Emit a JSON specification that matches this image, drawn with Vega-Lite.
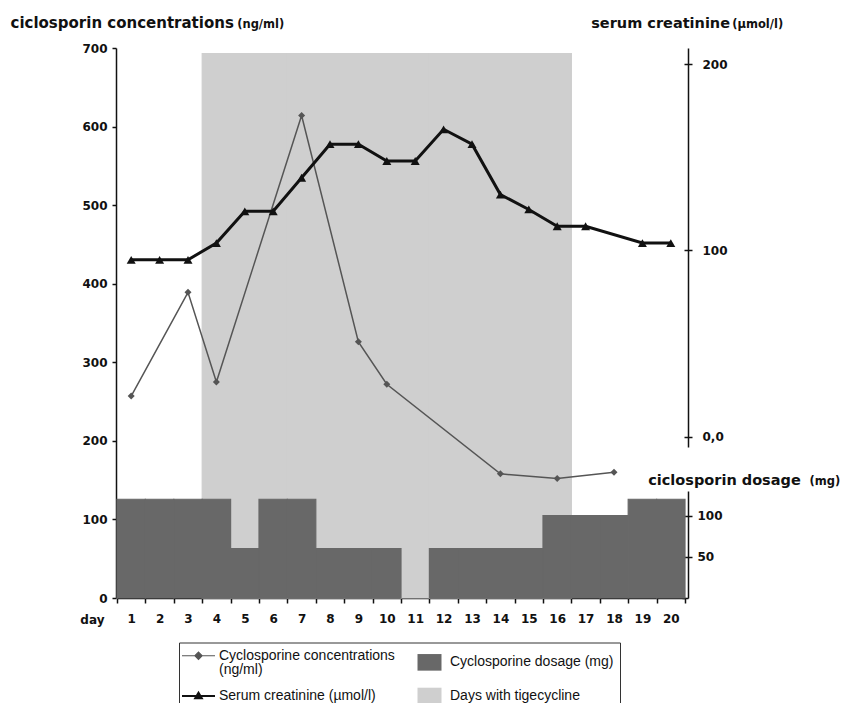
{
  "$schema": "https://vega.github.io/schema/vega-lite/v6.json",
  "width": 568,
  "height": 550,
  "autosize": {"type": "none"},
  "padding": {"left": 117, "top": 48, "right": 157, "bottom": 105},
  "background": "white",
  "config": {
    "font": "DejaVu Sans",
    "view": {"stroke": null},
    "style": {"guide-label": {"lineHeight": 14.5}},
    "axis": {
      "grid": false,
      "zindex": 1,
      "labelFont": "DejaVu Sans",
      "labelFontWeight": "bold",
      "labelFontSize": 12,
      "labelColor": "#111111",
      "domainColor": "#111111",
      "tickColor": "#111111",
      "domainWidth": 1.5,
      "tickWidth": 1.5,
      "titleFont": "DejaVu Sans",
      "titleFontWeight": "bold",
      "titleColor": "#111111",
      "titleAngle": 0,
      "titleAlign": "left",
      "titleBaseline": "alphabetic"
    }
  },
  "data": {
    "values": [
      {"day": 1, "conc": 257, "creat": 95, "dose": 120, "tige": false},
      {"day": 2, "conc": null, "creat": 95, "dose": 120, "tige": false},
      {"day": 3, "conc": 389, "creat": 95, "dose": 120, "tige": false},
      {"day": 4, "conc": 275, "creat": 104, "dose": 120, "tige": true},
      {"day": 5, "conc": null, "creat": 121, "dose": 60, "tige": true},
      {"day": 6, "conc": null, "creat": 121, "dose": 120, "tige": true},
      {"day": 7, "conc": 614, "creat": 139, "dose": 120, "tige": true},
      {"day": 8, "conc": null, "creat": 157, "dose": 60, "tige": true},
      {"day": 9, "conc": 326, "creat": 157, "dose": 60, "tige": true},
      {"day": 10, "conc": 272, "creat": 148, "dose": 60, "tige": true},
      {"day": 11, "conc": null, "creat": 148, "dose": 0, "tige": true},
      {"day": 12, "conc": null, "creat": 165, "dose": 60, "tige": true},
      {"day": 13, "conc": null, "creat": 157, "dose": 60, "tige": true},
      {"day": 14, "conc": 158, "creat": 130, "dose": 60, "tige": true},
      {"day": 15, "conc": null, "creat": 122, "dose": 60, "tige": true},
      {"day": 16, "conc": 152, "creat": 113, "dose": 100, "tige": true},
      {"day": 17, "conc": null, "creat": 113, "dose": 100, "tige": false},
      {"day": 18, "conc": 160, "creat": null, "dose": 100, "tige": false},
      {"day": 19, "conc": null, "creat": 104, "dose": 120, "tige": false},
      {"day": 20, "conc": null, "creat": 104, "dose": 120, "tige": false}
    ]
  },
  "encoding": {
    "x": {
      "field": "day",
      "type": "ordinal",
      "scale": {"paddingInner": 0, "paddingOuter": 0},
      "axis": {
        "title": "day",
        "titleX": -13,
        "titleY": 25,
        "titleAlign": "right",
        "titleFontSize": 12,
        "labelAngle": 0,
        "tickBand": "extent",
        "tickSize": 5,
        "labelPadding": 10
      }
    }
  },
  "layer": [
    {
      "transform": [{"filter": "datum.tige"}],
      "mark": {"type": "bar", "stroke": "#cfcfcf", "strokeWidth": 1.2},
      "encoding": {
        "y": {
          "datum": 693,
          "type": "quantitative",
          "scale": {"domain": [0, 700], "nice": false},
          "axis": {
            "orient": "right",
            "offset": 3,
            "domain": false,
            "labels": false,
            "ticks": true,
            "tickSize": -6,
            "values": [0, 52.4, 104.7],
            "title": "(mg)",
            "titleX": 121,
            "titleY": 436,
            "titleFontSize": 11.5
          }
        },
        "y2": {"datum": 0},
        "color": {
          "datum": "Days with tigecycline (100 mg/d)",
          "scale": {
            "domain": [
              "Cyclosporine concentrations (ng/ml)",
              "Serum creatinine (µmol/l)",
              "Cyclosporine dosage (mg)",
              "Days with tigecycline (100 mg/d)"
            ],
            "range": ["#555555", "#111111", "#686868", "#cfcfcf"]
          },
          "legend": {
            "orient": "none",
            "legendX": 62,
            "legendY": 594.5,
            "columns": 2,
            "title": null,
            "strokeColor": "#333333",
            "padding": 6,
            "symbolSize": 400,
            "symbolOffset": 6.5,
            "symbolType": {"expr": "datum.value === 'Cyclosporine concentrations (ng/ml)' ? 'M-1.65,0H1.65M-0.36,0L0,-0.36L0.36,0L0,0.36Z' : datum.value === 'Serum creatinine (µmol/l)' ? 'M-1.65,0H1.65M-0.33,0.22L0,-0.33L0.33,0.22Z' : 'M-1.2,-0.83H1.2V0.83H-1.2Z'"},
            "symbolStrokeWidth": {"expr": "datum.value === 'Serum creatinine (µmol/l)' ? 2 : datum.value === 'Cyclosporine concentrations (ng/ml)' ? 1.2 : 0"},
            "symbolStrokeColor": {"expr": "scale('color', datum.value)"},
            "symbolOpacity": 1,
            "labelOffset": 13.5,
            "labelFont": "Liberation Sans",
            "labelFontSize": 14,
            "labelFontWeight": "normal",
            "labelColor": "#111111",
            "labelLimit": 300,
            "columnPadding": 21,
            "rowPadding": 9.5,
            "labelBaseline": "middle",
            "labelExpr": "datum.label == 'Cyclosporine concentrations (ng/ml)' ? ['Cyclosporine concentrations', '(ng/ml)'] : datum.label == 'Days with tigecycline (100 mg/d)' ? ['Days with tigecycline', '(100 mg/d)'] : datum.label"
          }
        }
      }
    },
    {
      "transform": [{"filter": "datum.dose > 0"}],
      "mark": {"type": "bar", "stroke": "#686868", "strokeWidth": 1.2},
      "encoding": {
        "y": {
          "field": "dose",
          "type": "quantitative",
          "scale": {"domain": [0, 130], "range": [550, 443], "nice": false, "zero": true},
          "axis": {
            "orient": "right",
            "offset": 3,
            "values": [50, 100],
            "tickSize": 4,
            "labelPadding": 5,
            "title": "ciclosporin dosage",
            "titleX": -40.3,
            "titleY": 436,
            "titleFontSize": 14.5
          }
        },
        "color": {"datum": "Cyclosporine dosage (mg)"}
      }
    },
    {
      "transform": [{"filter": "datum.conc != null"}],
      "mark": {"type": "line", "strokeWidth": 1.5},
      "encoding": {
        "y": {
          "field": "conc",
          "type": "quantitative",
          "scale": {"domain": [0, 700], "nice": false},
          "axis": {
            "orient": "left",
            "offset": 1,
            "values": [0, 100, 200, 300, 400, 500, 600, 700],
            "tickSize": 4,
            "labelPadding": 5,
            "title": "ciclosporin concentrations",
            "titleX": -106,
            "titleY": -21,
            "titleFontSize": 15
          }
        },
        "color": {"datum": "Cyclosporine concentrations (ng/ml)"}
      }
    },
    {
      "transform": [{"filter": "datum.conc != null"}],
      "mark": {"type": "point", "shape": "diamond", "filled": true, "size": 49, "opacity": 1},
      "encoding": {
        "y": {
          "field": "conc",
          "type": "quantitative",
          "scale": {"domain": [0, 700], "nice": false},
          "axis": {
            "orient": "left",
            "offset": 1,
            "domain": false,
            "labels": false,
            "ticks": false,
            "title": "(ng/ml)",
            "titleX": 120.7,
            "titleY": -21,
            "titleFontSize": 11.5
          }
        },
        "color": {"datum": "Cyclosporine concentrations (ng/ml)"}
      }
    },
    {
      "transform": [{"filter": "datum.creat != null"}],
      "mark": {"type": "line", "strokeWidth": 3},
      "encoding": {
        "y": {
          "field": "creat",
          "type": "quantitative",
          "scale": {"domain": [-5.4, 208.6], "range": [399, 0], "nice": false, "zero": false},
          "axis": {
            "orient": "right",
            "offset": 3,
            "values": [0, 100, 200],
            "labelExpr": "datum.value == 0 ? '0,0' : datum.label",
            "tickSize": 4,
            "labelPadding": 10,
            "title": "serum creatinine",
            "titleX": -97.3,
            "titleY": -21,
            "titleFontSize": 14.5
          }
        },
        "color": {"datum": "Serum creatinine (µmol/l)"}
      }
    },
    {
      "transform": [{"filter": "datum.creat != null"}],
      "mark": {"type": "point", "shape": "triangle-up", "filled": true, "size": 81, "opacity": 1},
      "encoding": {
        "y": {
          "field": "creat",
          "type": "quantitative",
          "scale": {"domain": [-5.4, 208.6], "range": [399, 0], "nice": false, "zero": false},
          "axis": {
            "orient": "right",
            "offset": 3,
            "domain": false,
            "labels": false,
            "ticks": true,
            "tickSize": -4,
            "values": [0, 100, 200],
            "title": "(µmol/l)",
            "titleX": 43.7,
            "titleY": -21,
            "titleFontSize": 11.5
          }
        },
        "color": {"datum": "Serum creatinine (µmol/l)"}
      }
    }
  ],
  "resolve": {"scale": {"y": "independent"}}
}
